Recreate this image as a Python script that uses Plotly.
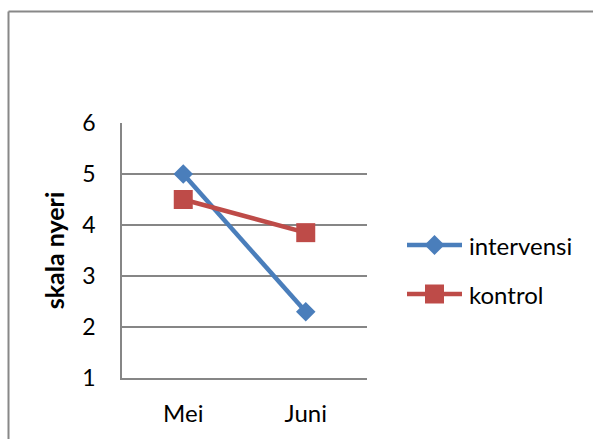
import plotly.graph_objects as go

# Monthly pain-scale means for the two groups
months = ["Mei", "Juni"]
intervensi = [5.0, 2.3]
kontrol = [4.5, 3.85]
y_ticks = [1, 2, 3, 4, 5, 6]

W, H = 593, 439
L, R, T, B = 122, 226, 123, 61
pw, ph = W - L - R, H - T - B

FONT = "Lato"
GRID = "#868686"
BLUE = "#4A7EBB"
RED = "#BE4B48"

series = [
    ("intervensi", intervensi, BLUE, "diamond", 15),
    ("kontrol", kontrol, RED, "square", 19),
]

fig = go.Figure()
for name, vals, color, sym, size in series:
    fig.add_trace(go.Scatter(
        x=months, y=vals, name=name, mode="lines+markers",
        line=dict(color=color, width=4.5),
        marker=dict(symbol=sym, size=size, color=color),
        showlegend=False,
    ))


def px_x(p):
    return (p - L) / pw


def px_y(p):
    return (H - B - p) / ph


# outer chart frame (top and left edges visible)
frame_x, frame_y = 8.5, 11.5
fig.add_shape(type="line", xref="paper", yref="paper",
              x0=px_x(frame_x), x1=px_x(W + 10), y0=px_y(frame_y), y1=px_y(frame_y),
              line=dict(color="#888888", width=2))
fig.add_shape(type="line", xref="paper", yref="paper",
              x0=px_x(frame_x), x1=px_x(frame_x), y0=px_y(frame_y), y1=px_y(H + 10),
              line=dict(color="#888888", width=2))

# legend: long line sample with the marker in its middle, label to the right
leg_x0, leg_x1, leg_text = 407, 462, 467
leg_rows = [245, 294]
for (name, vals, color, sym, size), ry in zip(series, leg_rows):
    fig.add_shape(type="line", xref="paper", yref="paper",
                  x0=px_x(leg_x0), x1=px_x(leg_x1), y0=px_y(ry), y1=px_y(ry),
                  line=dict(color=color, width=4.5))
    cx = (leg_x0 + leg_x1) / 2
    if sym == "diamond":
        hw = 10
        path = (f"M {px_x(cx - hw)} {px_y(ry)} L {px_x(cx)} {px_y(ry - hw)} "
                f"L {px_x(cx + hw)} {px_y(ry)} L {px_x(cx)} {px_y(ry + hw)} Z")
        fig.add_shape(type="path", xref="paper", yref="paper", path=path,
                      fillcolor=color, line=dict(width=0))
    else:
        hs = 9.5
        fig.add_shape(type="rect", xref="paper", yref="paper",
                      x0=px_x(cx - hs), x1=px_x(cx + hs),
                      y0=px_y(ry + hs), y1=px_y(ry - hs),
                      fillcolor=color, line=dict(width=0))
    fig.add_annotation(xref="paper", yref="paper", x=px_x(leg_text), y=px_y(ry),
                       xanchor="left", yanchor="middle", text=name, showarrow=False,
                       font=dict(size=24, family=FONT, color="black"))

fig.update_layout(
    width=W, height=H,
    margin=dict(l=L, r=R, t=T, b=B, autoexpand=False),
    paper_bgcolor="white", plot_bgcolor="white",
    font=dict(family=FONT, size=23, color="black"),
    showlegend=False,
    xaxis=dict(
        type="category", range=[-0.5, 1.5], showgrid=False, automargin=False,
        showline=True, linecolor=GRID, linewidth=1.5,
        ticks="", ticklabelstandoff=13, tickfont=dict(size=24),
    ),
    yaxis=dict(
        range=[1, 6], tickvals=y_ticks, showgrid=True, gridcolor=GRID, gridwidth=1.5,
        showline=True, linecolor=GRID, linewidth=1.5, zeroline=False, automargin=False,
        ticks="", ticklabelstandoff=20, tickfont=dict(size=23),
        title=dict(text="<b>skala nyeri</b>", font=dict(size=25), standoff=11),
    ),
)

fig.write_html("out.html")
